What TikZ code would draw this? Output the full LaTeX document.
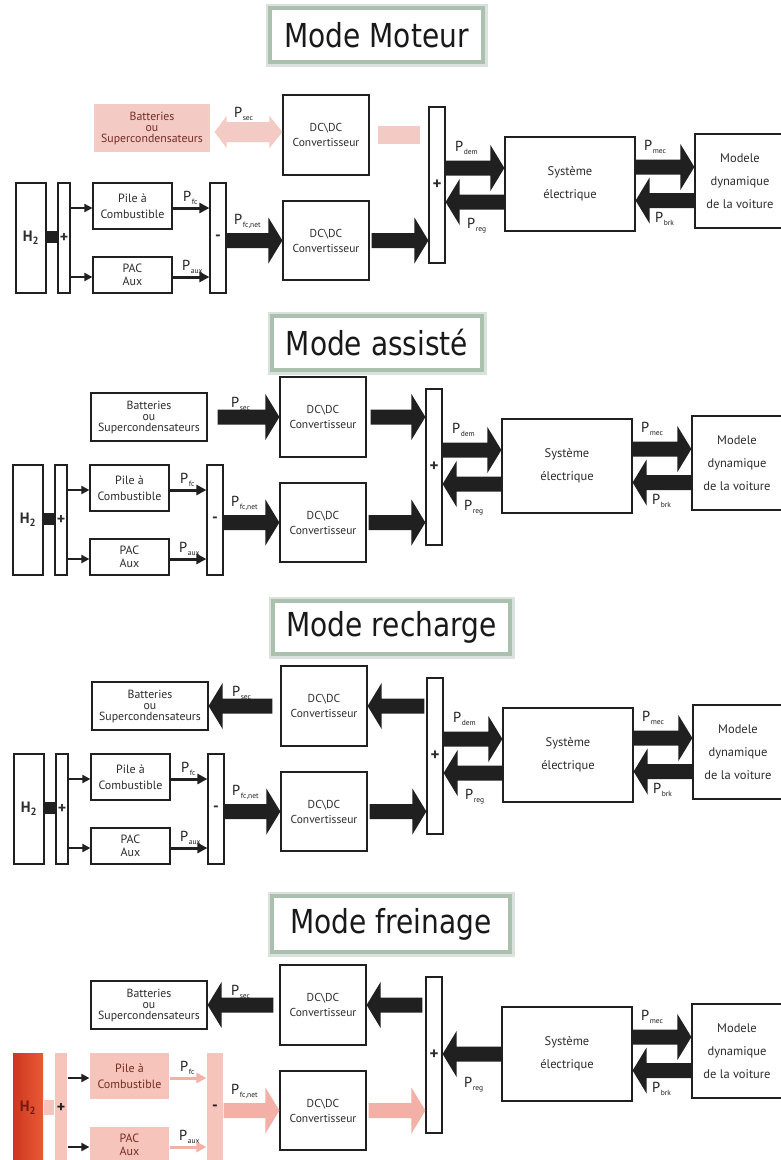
\documentclass[tikz,border=0pt]{standalone}
\usepackage{fontspec}
\setmainfont{PT Sans}
\newfontfamily\titlefont[FakeStretch=0.85]{DejaVu Sans}
\usetikzlibrary{calc,arrows.meta}
\definecolor{ink}{RGB}{32,32,32}
\definecolor{textc}{RGB}{45,45,45}
\definecolor{pinkA}{RGB}{244,202,197}
\definecolor{pinkB}{RGB}{246,196,186}
\definecolor{pinkC}{RGB}{243,176,166}
\definecolor{maroon}{RGB}{115,45,35}
\definecolor{h2dark}{RGB}{205,55,30}
\definecolor{h2light}{RGB}{232,90,55}
\definecolor{h2text}{RGB}{120,25,15}
\definecolor{titleg}{RGB}{172,192,176}

\def\fabw{7.5pt}\def\fahw{23pt}\def\fahl{14pt}
% fat arrow from #3 to #4 (same row), colour #1, start gap #2
\newcommand\fatarr[4]{%
  \fill[#1] let \p1=(#3), \p2=(#4), \n1={2*(\x2>\x1)-1} in
    (\x1+\n1*#2pt,\y1+\fabw) -- (\x2-\n1*\fahl,\y1+\fabw) -- (\x2-\n1*\fahl,\y1+\fahw) -- (\x2,\y1)
    -- (\x2-\n1*\fahl,\y1-\fahw) -- (\x2-\n1*\fahl,\y1-\fabw) -- (\x1+\n1*#2pt,\y1-\fabw) -- cycle;}

\newcommand\Plab[1]{{\fontsize{14.5}{14.5}\selectfont P}\kern0.5pt\raisebox{-3pt}{\fontsize{7.5}{7.5}\selectfont #1}}

\tikzset{
  box/.style={draw=ink, line width=1.2pt, fill=white, inner sep=0pt, align=center, text=textc,
    font=\fontsize{12}{13}\selectfont},
  battbox/.style={box, font=\fontsize{11.8}{11}\selectfont},
  fcbox/.style={box},
  h2box/.style={box, font=\bfseries\fontsize{15}{15}\selectfont},
  barbox/.style={box, font=\bfseries\fontsize{16}{16}\selectfont},
  dcfont/.style={font=\fontsize{11.5}{15}\selectfont},
  sysfont/.style={font=\fontsize{12.5}{23}\selectfont},
  pilefont/.style={font=\fontsize{12}{16}\selectfont},
  pacfont/.style={font=\fontsize{12}{12.5}\selectfont},
  lab/.style={inner sep=0pt, anchor=base west, text=ink},
  thinarr/.style={draw=ink, line width=1.8pt, -{Triangle[length=8pt,width=8pt]}},
  midarr/.style={draw=ink, line width=3pt, -{Triangle[length=10pt,width=10pt]}},
  titlebox/.style={draw=titleg, line width=4pt, fill=white, inner sep=0pt, text=black!90,
    preaction={draw=titleg!45, line width=9pt},
    font=\titlefont\fontsize{33}{33}\selectfont},
}

% #1 prefix, #2 xshift, #3 yshift, #4 batt centre y, #5 scope options, #6 extra code
\newcommand\panel[6]{%
\begin{scope}[shift={(#2,#3)},#5]
 \coordinate (#1rsec) at (0,-2);
 \coordinate (#1rnet) at (0,103.5);
 \coordinate (#1rdem) at (0,31);
 \coordinate (#1rreg) at (0,65);
 \coordinate (#1rmid) at (0,47);
 \coordinate (#1rmec) at (0,30);
 \coordinate (#1rbrk) at (0,63.5);
 \coordinate (#1rfc) at (0,71);
 \coordinate (#1raux) at (0,140);
 \coordinate (#1rh) at (0,100);
 \node[battbox, minimum width=116, minimum height=48] (#1batt) at (149,#4) {Batteries\\ou\\Supercondensateurs};
 \node[box, dcfont, minimum width=86, minimum height=80] (#1dc1) at (323,-2) {DC\textbackslash DC\\Convertisseur};
 \node[box, dcfont, minimum width=86, minimum height=79] (#1dc2) at (323,103.5) {DC\textbackslash DC\\Convertisseur};
 \node[box, minimum width=16, minimum height=156, font=\bfseries\fontsize{17}{17}\selectfont] (#1sum) at (434,48) {+};
 \node[box, sysfont, minimum width=130, minimum height=94] (#1sys) at (567,47) {Système\\électrique};
 \node[box, sysfont, minimum width=90, minimum height=94] (#1mod) at (737,44) {Modele\\dynamique\\de la voiture};
 \node[h2box, minimum width=30, minimum height=110] (#1h2) at (28,101) {H\textsubscript{2}};
 \node[barbox, minimum width=12, minimum height=110] (#1plus) at (61,101) {+};
 \node[fcbox, pilefont, minimum width=79, minimum height=46] (#1pile) at (129.5,69) {Pile à\\Combustible};
 \node[fcbox, pacfont, minimum width=79, minimum height=36] (#1pac) at (129.5,138) {PAC\\Aux};
 \node[barbox, minimum width=16, minimum height=110] (#1minus) at (215,101) {-};
 \node[lab] (#1lfc) at (180,64) {\Plab{fc}};
 \node[lab] (#1laux) at (179,133) {\Plab{aux}};
 \node[lab] (#1lnet) at (231,87.5) {\Plab{fc,net}};
 \node[lab] (#1lmec) at (641,13) {\Plab{mec}};
 \node[lab] (#1lbrk) at (652,85.5) {\Plab{brk}};
 #6
\end{scope}}

\begin{document}
\begin{tikzpicture}[x=1pt,y=-1pt]
\useasboundingbox (0,0) rectangle (781,1160);
\clip (0,0) rectangle (781,1160);
\fill[white] (0,0) rectangle (781,1160);

% ---------- titles
\node[titlebox, minimum width=213, minimum height=54] (t1) at (376.5,35) {Mode Moteur};
\node[titlebox, minimum width=210, minimum height=54] (t2) at (377,343) {Mode assisté};
\node[titlebox, minimum width=237, minimum height=53] (t3) at (391.5,627.5) {Mode recharge};
\node[titlebox, minimum width=238, minimum height=56] (t4) at (391,924) {Mode freinage};

% ---------- panel 1 : Mode Moteur
\panel{A}{3}{137}{-9}{battbox/.style={box, draw=none, fill=pinkA, text=maroon, font=\fontsize{11.8}{11}\selectfont}}{%
 \node[lab] (Alsec) at (231,-20) {\Plab{sec}};
 \node[lab] (Aldem) at (452,14) {\Plab{dem}};
 \node[lab] (Alreg) at (464,91) {\Plab{reg}};}
\fill[pinkA] let \p1=(Abatt.east |- Arsec), \p2=(Adc1.west |- Arsec) in
  (\x1+4pt,\y1+3pt) -- (\x1+16pt,\y1+19pt) -- (\x1+16pt,\y1+13pt) -- (\x2-13pt,\y1+13pt) -- (\x2-13pt,\y1+19pt)
  -- (\x2,\y1+3pt) -- (\x2-13pt,\y1-13pt) -- (\x2-13pt,\y1-7pt) -- (\x1+16pt,\y1-7pt) -- (\x1+16pt,\y1-13pt) -- cycle;
\draw[pinkA, line width=18pt, shorten <=8pt, shorten >=8pt] (Adc1.east |- Arsec) -- (Asum.west |- Arsec);
\fatarr{ink}{0}{Aminus.east |- Arnet}{Adc2.west |- Arnet}
\fatarr{ink}{2}{Adc2.east |- Arnet}{Asum.west |- Arnet}
\fatarr{ink}{0}{Asum.east |- Ardem}{Asys.west |- Ardem}
\fatarr{ink}{0}{Asys.west |- Arreg}{Asum.east |- Arreg}
\fatarr{ink}{0}{Asys.east |- Armec}{Amod.west |- Armec}
\fatarr{ink}{0}{Amod.west |- Arbrk}{Asys.east |- Arbrk}
\draw[ink, line width=12pt] (Ah2.east |- Arh) -- (Aplus.west |- Arh);
\draw[thinarr] (Aplus.east |- Arfc) -- (Apile.west |- Arfc);
\draw[thinarr] (Aplus.east |- Araux) -- (Apac.west |- Araux);
\draw[midarr] (Apile.east |- Arfc) -- (Aminus.west |- Arfc);
\draw[midarr] (Apac.east |- Araux) -- (Aminus.west |- Araux);

% ---------- panel 2 : Mode assiste
\panel{B}{0}{419}{-2}{}{%
 \node[lab] (Blsec) at (231,-12) {\Plab{sec}};
 \node[lab] (Bldem) at (452,14) {\Plab{dem}};
 \node[lab] (Blreg) at (464,91) {\Plab{reg}};}
\fatarr{ink}{10}{Bbatt.east |- Brsec}{Bdc1.west |- Brsec}
\fatarr{ink}{4}{Bdc1.east |- Brsec}{Bsum.west |- Brsec}
\fatarr{ink}{0}{Bminus.east |- Brnet}{Bdc2.west |- Brnet}
\fatarr{ink}{2}{Bdc2.east |- Brnet}{Bsum.west |- Brnet}
\fatarr{ink}{0}{Bsum.east |- Brdem}{Bsys.west |- Brdem}
\fatarr{ink}{0}{Bsys.west |- Brreg}{Bsum.east |- Brreg}
\fatarr{ink}{0}{Bsys.east |- Brmec}{Bmod.west |- Brmec}
\fatarr{ink}{0}{Bmod.west |- Brbrk}{Bsys.east |- Brbrk}
\draw[ink, line width=12pt] (Bh2.east |- Brh) -- (Bplus.west |- Brh);
\draw[thinarr] (Bplus.east |- Brfc) -- (Bpile.west |- Brfc);
\draw[thinarr] (Bplus.east |- Braux) -- (Bpac.west |- Braux);
\draw[midarr] (Bpile.east |- Brfc) -- (Bminus.west |- Brfc);
\draw[midarr] (Bpac.east |- Braux) -- (Bminus.west |- Braux);

% ---------- panel 3 : Mode recharge
\panel{C}{1}{708}{-2}{}{%
 \node[lab] (Clsec) at (231,-12) {\Plab{sec}};
 \node[lab] (Cldem) at (452,14) {\Plab{dem}};
 \node[lab] (Clreg) at (464,91) {\Plab{reg}};}
\fatarr{ink}{8}{Cdc1.west |- Crsec}{Cbatt.east |- Crsec}
\fatarr{ink}{2}{Csum.west |- Crsec}{Cdc1.east |- Crsec}
\fatarr{ink}{0}{Cminus.east |- Crnet}{Cdc2.west |- Crnet}
\fatarr{ink}{2}{Cdc2.east |- Crnet}{Csum.west |- Crnet}
\fatarr{ink}{0}{Csum.east |- Crdem}{Csys.west |- Crdem}
\fatarr{ink}{0}{Csys.west |- Crreg}{Csum.east |- Crreg}
\fatarr{ink}{0}{Csys.east |- Crmec}{Cmod.west |- Crmec}
\fatarr{ink}{0}{Cmod.west |- Crbrk}{Csys.east |- Crbrk}
\draw[ink, line width=12pt] (Ch2.east |- Crh) -- (Cplus.west |- Crh);
\draw[thinarr] (Cplus.east |- Crfc) -- (Cpile.west |- Crfc);
\draw[thinarr] (Cplus.east |- Craux) -- (Cpac.west |- Craux);
\draw[midarr] (Cpile.east |- Crfc) -- (Cminus.west |- Crfc);
\draw[midarr] (Cpac.east |- Craux) -- (Cminus.west |- Craux);

% ---------- panel 4 : Mode freinage
\panel{D}{0}{1007}{-2}{%
  h2box/.style={box, draw=none, left color=h2dark, right color=h2light, text=h2text, font=\bfseries\fontsize{15}{15}\selectfont},
  barbox/.style={box, draw=none, fill=pinkB, text=ink, font=\bfseries\fontsize{16}{16}\selectfont},
  fcbox/.style={box, draw=none, fill=pinkB, text=maroon}}{%
 \node[lab] (Dlsec) at (231,-12) {\Plab{sec}};
 \node[lab] (Dlreg) at (464,80) {\Plab{reg}};}
\fatarr{ink}{6}{Ddc1.west |- Drsec}{Dbatt.east |- Drsec}
\fatarr{ink}{3}{Dsum.west |- Drsec}{Ddc1.east |- Drsec}
\fatarr{pinkC}{0}{Dminus.east |- Drnet}{Ddc2.west |- Drnet}
\fatarr{pinkC}{2}{Ddc2.east |- Drnet}{Dsum.west |- Drnet}
\fatarr{ink}{0}{Dsys.west |- Drmid}{Dsum.east |- Drmid}
\fatarr{ink}{0}{Dsys.east |- Drmec}{Dmod.west |- Drmec}
\fatarr{ink}{0}{Dmod.west |- Drbrk}{Dsys.east |- Drbrk}
\draw[pinkB, line width=15pt] (Dh2.east |- Drh) -- (Dplus.west |- Drh);
\draw[thinarr] (Dplus.east |- Drfc) -- (Dpile.west |- Drfc);
\draw[thinarr] (Dplus.east |- Draux) -- (Dpac.west |- Draux);
\draw[midarr, draw=pinkC] (Dpile.east |- Drfc) -- (Dminus.west |- Drfc);
\draw[midarr, draw=pinkC] (Dpac.east |- Draux) -- (Dminus.west |- Draux);
\end{tikzpicture}
\end{document}
